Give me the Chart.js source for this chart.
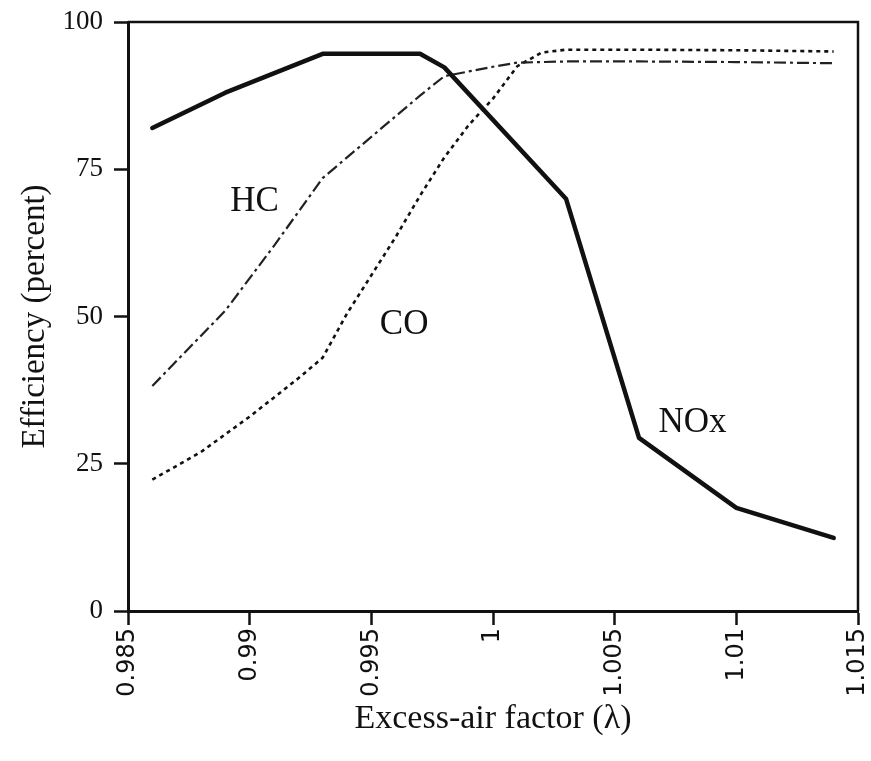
<!DOCTYPE html>
<html>
<head>
<meta charset="utf-8">
<script src="https://cdn.jsdelivr.net/npm/chart.js@4/dist/chart.umd.min.js"></script>
<style>
  html, body { margin: 0; padding: 0; background: #fff; }
  #wrap { width: 871px; height: 761px; position: relative; }
</style>
</head>
<body>
<div id="wrap"><canvas id="c" width="871" height="761"></canvas></div>
<script>
// ---- data ----
const noxLambda = [0.986, 0.989, 0.993, 0.997, 0.998, 1.003, 1.006, 1.010, 1.014];
const noxEff    = [82,    88,    94.6,  94.6,  92.3,  70,    29.4,  17.5,  12.4];

const hcLambda  = [0.986, 0.989, 0.991, 0.993, 0.995, 0.997, 0.998, 0.999, 1.000, 1.001, 1.003, 1.006, 1.010, 1.014];
const hcEff     = [38.2,  51,    62,    73.5,  80.5,  87.5,  90.8,  91.6,  92.4,  93.1,  93.3,  93.3,  93.2,  93.0];

const coLambda  = [0.986, 0.988, 0.990, 0.992, 0.993, 0.994, 0.995, 0.996, 0.997, 0.998, 0.999, 1.000, 1.001, 1.002, 1.003, 1.006, 1.010, 1.014];
const coEff     = [22.3,  27,    33,    39.5,  43,    50.5,  57,    63.5,  70.5,  77,    82.5,  87,    92.5,  94.8,  95.3,  95.3,  95.2,  95.0];

const xTickValues = [0.985, 0.99, 0.995, 1, 1.005, 1.01, 1.015];
const xTickLabels = ['0.985', '0.99', '0.995', '1', '1.005', '1.01', '1.015'];
const yTickValues = [0, 25, 50, 75, 100];
const yTickLabels = ['0', '25', '50', '75', '100'];

// curve labels: [text, lambda, efficiency]
const curveLabels = [
  ['HC', 0.9902, 69.5],
  ['CO', 0.99635, 48.6],
  ['NOx', 1.0082, 32]
];

const toPts = (xs, ys) => xs.map((x, i) => ({ x: x, y: ys[i] }));

const frame = {
  id: 'frame',
  afterDatasetsDraw(chart) {
    const { ctx, chartArea: a, scales } = chart;
    ctx.save();
    ctx.strokeStyle = '#111';
    ctx.lineWidth = 2.5;
    ctx.beginPath();
    ctx.moveTo(a.left, a.top);
    ctx.lineTo(a.right, a.top);
    ctx.lineTo(a.right, a.bottom);
    ctx.stroke();
    ctx.fillStyle = '#111';
    ctx.font = '35px "Liberation Serif", serif';
    ctx.textAlign = 'center';
    ctx.textBaseline = 'middle';
    curveLabels.forEach(([t, lx, ly]) => {
      ctx.fillText(t, scales.x.getPixelForValue(lx), scales.y.getPixelForValue(ly));
    });
    ctx.restore();
  }
};

new Chart(document.getElementById('c'), {
  type: 'line',
  data: {
    datasets: [
      { label: 'NOx', data: toPts(noxLambda, noxEff), borderColor: '#111', borderWidth: 4.5,
        pointRadius: 0, tension: 0, borderJoinStyle: 'round', borderCapStyle: 'round' },
      { label: 'HC', data: toPts(hcLambda, hcEff), borderColor: '#222', borderWidth: 2.2,
        borderDash: [12, 4, 3, 4], pointRadius: 0, tension: 0 },
      { label: 'CO', data: toPts(coLambda, coEff), borderColor: '#111', borderWidth: 2.6,
        borderDash: [4, 4], pointRadius: 0, tension: 0 }
    ]
  },
  options: {
    responsive: false,
    animation: false,
    layout: { padding: { top: 22, right: 13, left: 0, bottom: 0 } },
    plugins: { legend: { display: false }, tooltip: { enabled: false } },
    scales: {
      x: {
        type: 'linear', min: 0.985, max: 1.015,
        afterBuildTicks: s => { s.ticks = xTickValues.map(v => ({ value: v })); },
        afterFit: s => { s.height = 150; s.paddingLeft = 0; s.paddingRight = 0; },
        grid: { display: true, drawOnChartArea: false, drawTicks: true, tickLength: 14,
                tickWidth: 2.5, tickColor: '#111' },
        border: { display: true, color: '#111', width: 3 },
        ticks: {
          minRotation: 90, maxRotation: 90, padding: 3, color: '#111',
          font: { family: '"DejaVu Sans", sans-serif', size: 24 },
          callback: (v) => { const i = xTickValues.findIndex(t => Math.abs(t - v) < 1e-9); return i >= 0 ? xTickLabels[i] : ''; }
        },
        title: { display: true, text: 'Excess-air factor (λ)', color: '#111',
                 font: { family: '"Liberation Serif", serif', size: 34 }, padding: { top: 0, bottom: 22 } }
      },
      y: {
        type: 'linear', min: 0, max: 100,
        afterBuildTicks: s => { s.ticks = yTickValues.map(v => ({ value: v })); },
        afterFit: s => { s.width = 128; s.paddingTop = 0; s.paddingBottom = 0; },
        grid: { display: true, drawOnChartArea: false, drawTicks: true, tickLength: 14,
                tickWidth: 2.5, tickColor: '#111' },
        border: { display: true, color: '#111', width: 3 },
        ticks: {
          padding: 11, color: '#111',
          font: { family: '"Liberation Serif", serif', size: 27 },
          callback: (v) => { const i = yTickValues.indexOf(v); return i >= 0 ? yTickLabels[i] : ''; }
        },
        title: { display: true, text: 'Efficiency (percent)', color: '#111',
                 font: { family: '"Liberation Serif", serif', size: 33 }, padding: { top: 16, bottom: 0 } }
      }
    }
  },
  plugins: [frame]
});
</script>
</body>
</html>
